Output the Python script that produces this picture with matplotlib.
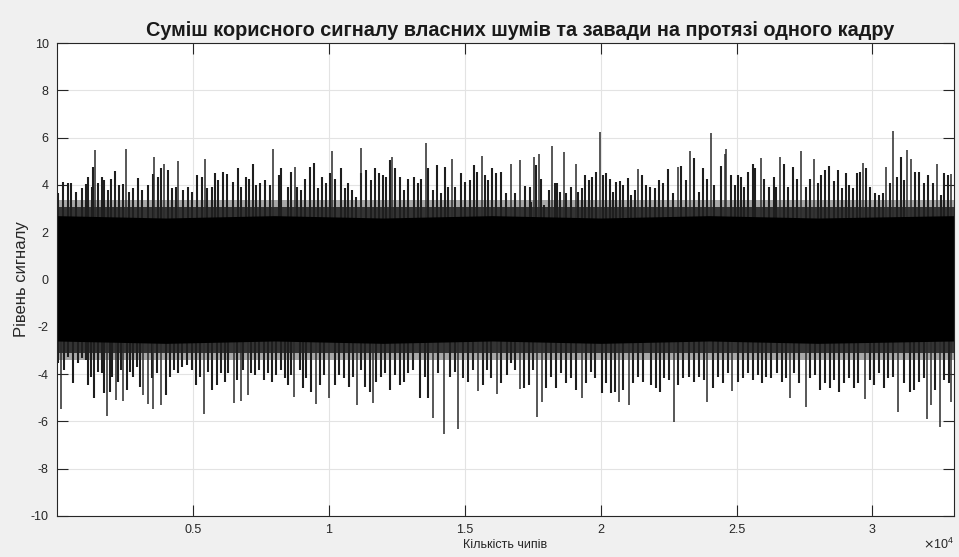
import matplotlib
matplotlib.use("Agg")
import matplotlib.pyplot as plt
import numpy as np

plt.rcParams['font.family'] = ['Liberation Sans', 'DejaVu Sans']

title = "Суміш корисного сигналу власних шумів та завади на протязі одного кадру"
xlabel = "Кількість чипів"
ylabel = "Рівень сигналу"
x_max = 33000
y_ticks = [-10, -8, -6, -4, -2, 0, 2, 4, 6, 8, 10]
x_ticks = [5000, 10000, 15000, 20000, 25000, 30000]
x_tick_labels = ["0.5", "1", "1.5", "2", "2.5", "3"]

# dense core of the signal (solid black region)
band_x = [0, 4000, 8000, 12000, 16000, 20000, 24000, 28000, 33000]
band_top = [2.7, 2.6, 2.7, 2.6, 2.7, 2.6, 2.7, 2.6, 2.7]
band_bottom = [-2.6, -2.7, -2.6, -2.7, -2.6, -2.7, -2.6, -2.7, -2.6]
# fuzzy fringe of the dense core: (upper level, lower level, shade)
fringe_up = [3.35, 3.05]
fringe_dn = [-3.4, -3.1]
fringe_shade = ['#a8a8a8', '#343434']

# tallest positive spikes
peak_up_x = [1397, 2536, 3566, 3933, 4448, 5440, 7940, 8749, 10109, 11175, 12314,
             13564, 14520, 15623, 16689, 17020, 17535, 17718, 18196, 18637, 19078,
             19961, 21358, 22828, 23306, 24078, 24592, 24629, 25916, 26614, 27386,
             27864, 29665, 30511, 30768, 31283, 31430, 32385, 32900]
peak_up_y = [5.48, 5.52, 5.18, 4.88, 5.01, 5.09, 5.52, 4.76, 5.43, 5.56, 5.18,
             5.78, 5.09, 5.22, 4.88, 5.05, 5.2, 5.3, 5.64, 5.38, 4.88,
             6.24, 4.67, 4.74, 5.43, 6.2, 5.3, 5.52, 5.12, 5.2, 5.43,
             5.09, 4.94, 4.74, 6.28, 5.48, 5.09, 4.88, 4.45]

# deepest negative spikes
peak_dn_x = [147, 1838, 2169, 2426, 3161, 3345, 3529, 3823, 5404, 6507, 6764, 7021,
             8712, 9521, 9999, 11028, 11616, 13822, 14226, 14741, 15476, 16174,
             17020, 17645, 17829, 19299, 20659, 21027, 22681, 23931, 24850, 26982,
             27570, 29739, 30952, 32018, 32165, 32496, 32900]
peak_dn_y = [-5.47, -5.78, -5.1, -5.15, -4.9, -5.27, -5.47, -5.3, -5.7, -5.23, -5.12, -4.9,
             -4.95, -5.27, -5.0, -5.3, -5.23, -5.86, -6.53, -6.32, -4.7, -4.85,
             -4.62, -5.82, -5.2, -5.0, -5.2, -5.3, -6.02, -5.17, -4.7, -5.0,
             -5.4, -5.07, -5.6, -5.9, -5.3, -6.23, -5.2]

# medium positive excursions
mid_up_x = [50, 233, 392, 515, 686, 907, 1054, 1152, 1275, 1336, 1520, 1642, 1740, 1887,
            1985, 2132, 2279, 2438, 2646, 2806, 2990, 3137, 3357, 3541, 3725, 3822, 4092,
            4239, 4361, 4643, 4827, 4950, 5133, 5317, 5501, 5685, 5807, 5930, 6113, 6272,
            6481, 6664, 6787, 6946, 7056, 7216, 7338, 7485, 7644, 7828, 8159, 8257, 8502,
            8624, 8845, 8992, 9139, 9298, 9458, 9605, 9752, 9911, 10033, 10217, 10462,
            10609, 10707, 10866, 11013, 11197, 11381, 11540, 11687, 11834, 11993, 12115,
            12238, 12422, 12606, 12765, 12912, 13132, 13279, 13402, 13647, 13831, 13990,
            14137, 14260, 14382, 14627, 14848, 14995, 15178, 15338, 15460, 15730, 15852,
            15999, 16158, 16342,
            16530, 16837, 17229, 17388, 17449, 17633, 17817, 17915, 18086, 18306, 18405,
            18490, 18735, 18919, 19164, 19311, 19434, 19556, 19679, 19838, 20083, 20205,
            20328, 20450, 20573, 20695, 20818, 21002, 21124, 21247, 21516, 21675, 21798,
            21982, 22129, 22288, 22472, 22655, 22962, 23145, 23452, 23611, 23770, 23917,
            24187, 24432, 24799, 24946, 25069, 25167, 25289, 25412, 25595, 25681, 26024,
            26208, 26367, 26453, 26759, 26906, 27065, 27225, 27555, 27715, 28009, 28107,
            28253, 28413, 28572, 28719, 28866, 29025, 29148, 29270, 29430, 29552, 29760,
            29920, 30091, 30250, 30373, 30655, 30900, 31047, 31169, 31561, 31720, 31880,
            32027, 32210, 32517, 32639, 32762]
mid_up_y = [3.64, 4.13, 4.06, 4.06, 3.71, 3.85, 4.02, 4.35, 3.92, 4.77, 4.06, 4.35, 4.20, 3.78,
            4.27, 4.58, 3.99, 4.02, 3.71, 3.85, 4.30, 3.78, 3.99, 4.44, 4.35, 4.70, 4.63,
            3.85, 3.92, 3.78, 3.92, 3.71, 4.42, 4.35, 3.85, 3.92, 4.49, 4.20, 4.56, 4.44,
            4.13, 4.70, 3.92, 4.35, 4.27, 4.87, 3.99, 4.06, 4.20, 3.99, 4.42, 4.70, 3.92,
            4.56, 3.92, 3.78, 4.27, 4.77, 4.91, 3.85, 4.35, 4.06, 4.49, 4.27, 4.70,
            3.85, 4.06, 3.78, 3.50, 4.49, 4.63, 4.20, 4.70, 4.49, 4.42, 4.35,
            5.05, 4.73, 4.35, 3.78, 4.27, 4.35, 4.06, 4.27, 4.70, 3.78, 4.84,
            3.64, 4.77, 3.92, 3.92, 4.49, 4.13, 4.20, 4.84, 4.56, 4.42, 4.20,
            4.70, 4.49, 4.56,
            3.64, 3.64, 3.96, 3.92, 3.29, 4.84, 4.27, 3.15, 3.78, 4.06, 4.06,
            3.71, 3.64, 3.92, 3.71, 3.85, 4.42, 4.20, 4.35, 4.56, 4.42, 4.49,
            4.27, 3.71, 4.13, 4.16, 3.99, 4.30, 3.57, 3.78, 4.42, 3.99, 3.92,
            3.85, 4.20, 4.06, 4.67, 3.64, 4.81, 4.20, 5.12, 3.71, 4.70, 4.27,
            3.99, 4.81, 4.42, 3.99, 4.42, 4.35, 3.92, 4.56, 4.87, 4.70, 4.27,
            3.92, 4.35, 3.92, 4.87, 3.92, 4.77, 4.27, 3.92, 4.27, 4.06, 4.42,
            4.63, 4.81, 4.16, 4.63, 3.85, 4.49, 3.99, 3.85, 4.49, 4.56, 4.70,
            3.92, 3.64, 3.57, 3.64, 4.06, 4.35, 5.19, 4.20, 4.56, 4.56, 4.06,
            4.42, 4.06, 3.57, 4.49, 4.42]

# medium negative excursions
mid_dn_x = [25, 270, 417, 601, 760, 907, 1054, 1152, 1250, 1372, 1520, 1642, 1740, 1948,
            2034, 2254, 2352, 2561, 2683, 2806, 2928, 3051, 3480, 3663, 3994, 4153, 4313,
            4460, 4607, 4766, 4950, 5097, 5256, 5537, 5685, 5868, 6028, 6175, 6297, 6640,
            6848, 7155, 7277, 7424, 7620, 7767, 7914, 8073, 8233, 8380, 8502, 8624, 8931,
            9053, 9176, 9360, 9666, 9825, 10217, 10364, 10560, 10732, 10891, 11197, 11344,
            11503, 11748, 11907, 12079, 12238, 12422, 12606, 12765, 12912, 13096, 13341,
            13525, 13647, 14015, 14443, 14627, 14933, 15117, 15301, 15668, 15828, 15974,
            16342,
            16567, 16714, 16861, 17180, 17351, 17510, 17999, 18184, 18368, 18552, 18735,
            18919, 19103, 19470, 19630, 19777, 20046, 20205, 20365, 20512, 20818, 21185,
            21369, 21553, 21859, 22043, 22202, 22349, 22533, 22839, 23023, 23268, 23452,
            23635, 23794, 24125, 24309, 24493, 24677, 25044, 25228, 25412, 25595, 25779,
            25926, 26085, 26269, 26490, 26661, 26820, 27126, 27310, 27715, 27886, 28082,
            28253, 28449, 28597, 28780, 28964, 29148, 29332, 29479, 29920, 30067, 30250,
            30410, 30581, 30741, 31145, 31390, 31537, 31720, 31880, 32296, 32639, 32823]
mid_dn_y = [-3.55, -3.83, -3.26, -4.39, -3.55, -3.33, -3.40, -4.46, -4.11, -5.03, -3.90, -3.97,
            -4.81, -4.74, -4.11, -4.32, -3.83, -4.67, -3.90, -4.11, -3.69, -4.53, -4.18,
            -3.97, -4.88, -4.11, -3.83, -3.97, -3.69, -3.62, -3.83, -4.46, -4.11, -3.90,
            -4.67, -4.46, -3.97, -4.32, -3.97, -4.25, -3.83, -3.97, -4.04, -3.83, -4.25,
            -3.97, -4.32, -4.04, -3.83, -4.18, -4.46, -4.04, -3.83, -4.60, -4.18, -4.74,
            -4.46, -4.04, -4.46, -4.04, -4.18, -4.53, -4.11, -3.83, -4.53, -4.74, -4.32,
            -4.11, -3.97, -4.67, -4.04, -4.46, -4.32, -3.97, -3.83, -5.03, -4.11, -5.03,
            -3.97, -4.11, -3.90, -4.18, -4.32, -3.83, -4.46, -3.83, -4.18, -4.39,
            -4.04, -3.55, -3.83, -4.60, -4.46, -3.83, -4.60, -4.11, -4.60, -3.97, -4.39,
            -4.18, -4.67, -4.39, -3.90, -4.18, -4.81, -4.39, -4.81, -4.74, -4.67, -4.39,
            -4.11, -4.32, -4.46, -4.60, -4.74, -4.18, -4.25, -4.46, -4.18, -4.11, -4.32,
            -4.11, -4.25, -4.60, -4.11, -4.39, -3.97, -4.32, -4.18, -3.97, -4.25, -4.04,
            -4.39, -4.11, -4.18, -3.97, -4.32, -4.18, -3.97, -4.39, -4.18, -4.04, -4.67,
            -4.39, -4.60, -4.25, -4.74, -4.39, -4.18, -4.60, -4.39, -4.25, -4.46, -3.97,
            -4.60, -4.18, -4.11, -4.39, -4.74, -4.67, -4.32, -4.18, -4.67, -4.25, -4.39]

fig = plt.figure(figsize=(9.59, 5.57), dpi=100, facecolor='#f0f0f0')
ax = fig.add_axes([57 / 959, 1 - 516 / 557, (954 - 57) / 959, (516 - 43) / 557])
ax.set_facecolor('white')

for lev_u, lev_d, shade in zip(fringe_up, fringe_dn, fringe_shade):
    ax.fill_between([0, x_max], [lev_d, lev_d], [lev_u, lev_u], color=shade, lw=0, zorder=2)
ax.fill_between(band_x, band_bottom, band_top, color='black', lw=0, zorder=5)
base = 2.4
ax.vlines(mid_up_x, base, mid_up_y, color='#1e1e1e', lw=1.5, zorder=3)
ax.vlines(mid_dn_x, -base, mid_dn_y, color='#1e1e1e', lw=1.5, zorder=3)
ax.vlines(peak_up_x, base, peak_up_y, color='#2a2a2a', lw=1.1, zorder=4)
ax.vlines(peak_dn_x, -base, peak_dn_y, color='#2a2a2a', lw=1.1, zorder=4)

ax.set_xlim(0, x_max)
ax.set_ylim(-10, 10)
ax.set_yticks(y_ticks)
ax.set_yticklabels([str(v) for v in y_ticks])
ax.set_xticks(x_ticks)
ax.set_xticklabels(x_tick_labels)
ax.grid(True, color='#e3e3e3', lw=0.8)
ax.set_axisbelow(True)
ax.tick_params(direction='in', length=8, width=0.8, colors='#262626', labelsize=9,
               top=True, right=True, pad=6)
for s in ax.spines.values():
    s.set_color('#262626')
    s.set_linewidth(0.8)
    s.set_zorder(6)

ax.set_title(title, fontsize=14.3, fontweight='bold', color='#1a1a1a', pad=5,
             x=(520 - 57) / 897)
ax.set_xlabel(xlabel, fontsize=9, color='#262626', labelpad=2)
ax.set_ylabel(ylabel, fontsize=12, color='#262626', labelpad=1)
ax.text(1.0, -0.045, r'$\times\mathregular{10^4}$', transform=ax.transAxes,
        ha='right', va='top', fontsize=9, color='#262626')

fig.savefig('out.png', dpi=100, facecolor=fig.get_facecolor())
